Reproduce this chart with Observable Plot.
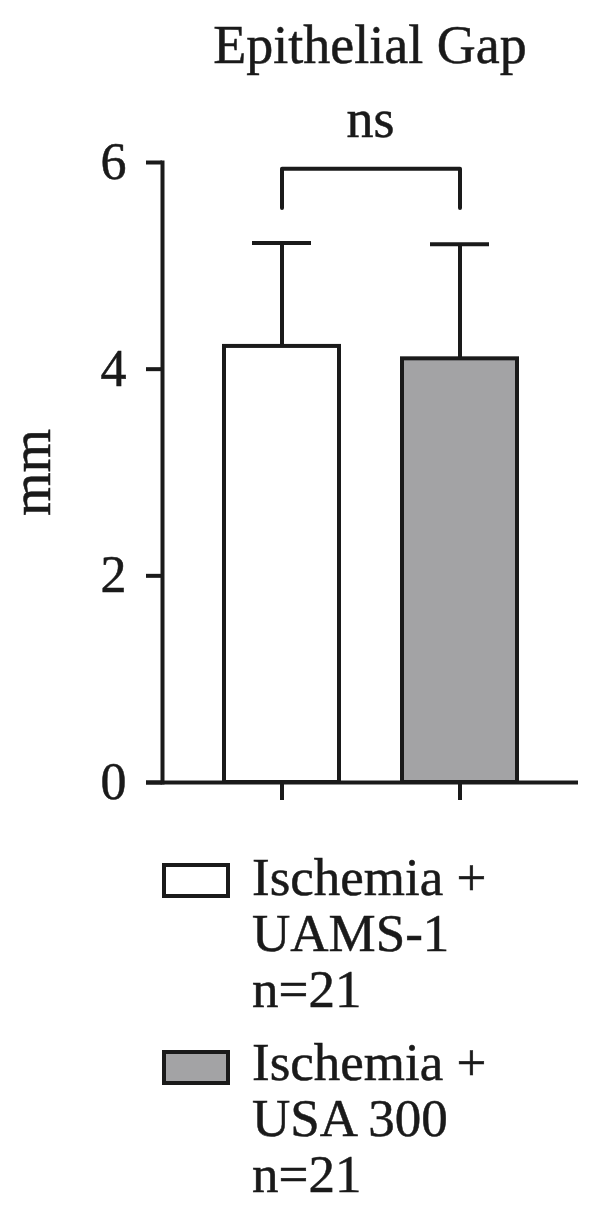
<!DOCTYPE html>
<html>
<head>
<meta charset="utf-8">
<script src="https://cdn.jsdelivr.net/npm/d3@7"></script>
<script src="https://cdn.jsdelivr.net/npm/@observablehq/plot@0.6"></script>
<style>
  body { margin: 0; background: #fff; }
  #wrap { position: relative; width: 600px; height: 1217px; font-family: "Liberation Serif", "DejaVu Serif", serif; color: #1a1a1a; overflow: hidden; }
  #title { position: absolute; left: 170px; width: 400px; top: 18px; text-align: center; font-size: 54px; line-height: 54px; white-space: nowrap; -webkit-text-stroke: 0.5px #1a1a1a; }
  #chart { position: absolute; left: 0; top: 95px; }
  #chart text { stroke: #1a1a1a; stroke-width: 0.5px; }
  .sw { position: absolute; left: 162px; width: 68px; height: 35px; box-sizing: border-box; border: 4px solid #1a1a1a; }
  .lt { position: absolute; left: 252px; font-size: 53px; line-height: 56px; white-space: nowrap; -webkit-text-stroke: 0.5px #1a1a1a; }
</style>
</head>
<body>
<div id="wrap">
  <div id="title"></div>
  <div id="chart"></div>
  <div id="legend"></div>
</div>
<script>
// ---- data ----
const title = "Epithelial Gap";
const groups = ["Ischemia + UAMS-1", "Ischemia + USA 300"];
const means = [4.22, 4.10];
const sds = [1.00, 1.11];
const colors = ["#ffffff", "#a3a3a5"];
const legendLines = [["Ischemia +", "UAMS-1", "n=21"], ["Ischemia +", "USA 300", "n=21"]];
const yTicks = [0, 2, 4, 6];
const yLabel = "mm";
const sigLabel = "ns";
const bracketLow = 5.56, bracketHigh = 5.94, sigLabelY = 6.41;

// ---- build ----
const data = groups.map((g, i) => ({group: g, mean: means[i], upper: means[i] + sds[i], color: colors[i]}));
const bracket = [
  {group: groups[0], y: bracketLow},
  {group: groups[0], y: bracketHigh},
  {group: groups[1], y: bracketHigh},
  {group: groups[1], y: bracketLow}
];
const ink = "#1a1a1a";
const lw = 4;

document.getElementById("title").textContent = title;

const chart = Plot.plot({
  width: 600,
  height: 735,
  marginTop: 67,
  marginBottom: 48,
  marginLeft: 162,
  marginRight: 22,
  style: {fontFamily: "'Liberation Serif', serif", fontSize: "52px", color: ink, background: "transparent", overflow: "visible"},
  x: {type: "band", domain: groups, paddingInner: 0.354, paddingOuter: 0.343, label: null},
  y: {domain: [0, 6], label: null},
  marks: [
    Plot.axisY({ticks: yTicks, tickFormat: d3.format("d"), tickSize: 16, tickPadding: 20, strokeWidth: lw, fontSize: 52, label: null}),
    Plot.axisX({tickSize: 18, strokeWidth: lw, tickFormat: () => "", label: null}),
    Plot.frame({anchor: "left", stroke: ink, strokeWidth: lw}),
    Plot.ruleX(data, {x: "group", y1: "mean", y2: "upper", stroke: ink, strokeWidth: lw}),
    Plot.tickY(data, {x: "group", y: "upper", stroke: ink, strokeWidth: lw, insetLeft: 28, insetRight: 28}),
    Plot.barY(data, {x: "group", y: "mean", fill: "color", stroke: ink, strokeWidth: lw}),
    Plot.ruleY([0], {stroke: ink, strokeWidth: lw, insetLeft: -16}),
    Plot.line(bracket, {x: "group", y: "y", stroke: ink, strokeWidth: lw}),
    Plot.text([sigLabel], {text: d => d, y: () => sigLabelY, fontSize: 54, fill: ink}),
    Plot.text([yLabel], {text: d => d, frameAnchor: "left", textAnchor: "middle", rotate: -90, dx: -130, fontSize: 56, fill: ink})
  ]
});
document.getElementById("chart").appendChild(chart);

// ---- legend ----
const legend = document.getElementById("legend");
const blockTops = [849, 1034];
const swatchTops = [863, 1050];
legendLines.forEach((lines, i) => {
  const sw = document.createElement("div");
  sw.className = "sw";
  sw.style.top = swatchTops[i] + "px";
  sw.style.background = colors[i];
  legend.appendChild(sw);
  lines.forEach((t, j) => {
    const el = document.createElement("div");
    el.className = "lt";
    el.style.top = (blockTops[i] + j * 56) + "px";
    el.textContent = t;
    legend.appendChild(el);
  });
});
</script>
</body>
</html>
